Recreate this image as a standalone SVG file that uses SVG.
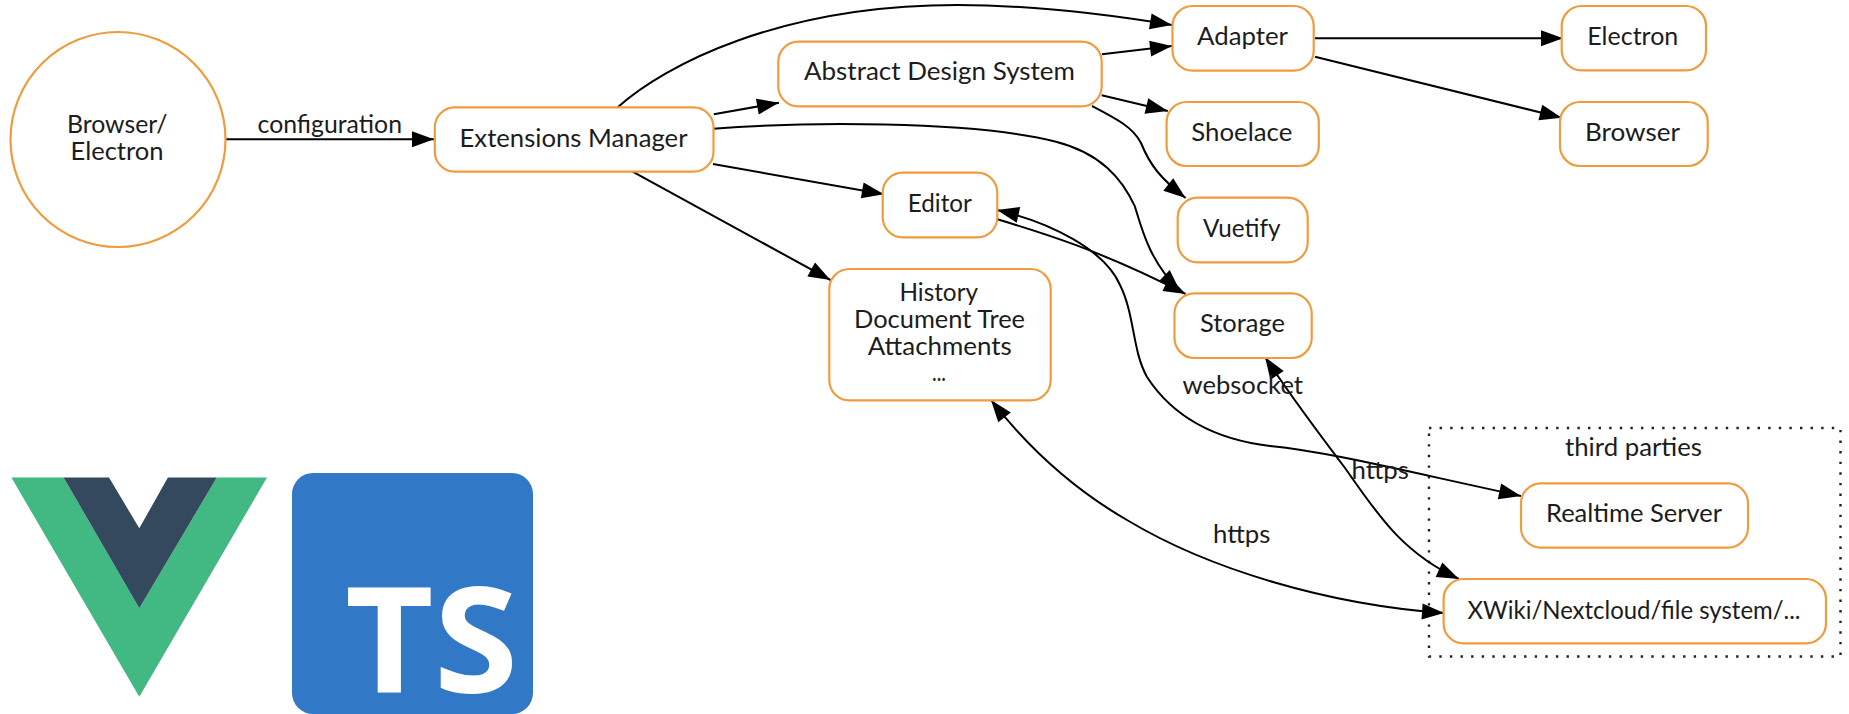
<svg xmlns="http://www.w3.org/2000/svg" width="1849" height="714" viewBox="0 0 1849 714">
<style>
.n{fill:#fff;stroke:#ef9c3f;stroke-width:2.2}
.t{font-family:"Lato","Noto Sans",sans-serif;font-size:25px;fill:#1c1c1c}
.c path{fill:none;stroke:#000;stroke-width:2}
.e{marker-end:url(#a)}
.b{marker-end:url(#a);marker-start:url(#a)}
</style>
<defs>
<marker id="a" markerUnits="userSpaceOnUse" markerWidth="24" markerHeight="18" viewBox="0 0 24 18" refX="23" refY="9" orient="auto-start-reverse"><path d="M1 1L23 9L1 17Z" fill="#000"/></marker>
</defs>
<rect width="1849" height="714" fill="#fff"/>
<g id="cluster-third-parties">
<rect x="1429" y="428" width="411.5" height="228.5" fill="none" stroke="#222" stroke-width="2.4" stroke-dasharray="2.4 8.2"/>
<text class="t" x="1565" y="455.5" textLength="137" lengthAdjust="spacingAndGlyphs">third parties</text>
</g>
<g id="connectors" class="c">
<path class="e" d="M225.5 139.3H434"/>
<path class="e" d="M618 107C665 65 780 5 957 5C1030 5 1100 13 1172 25"/>
<path class="e" d="M1102 54.3L1172 46"/>
<path class="e" d="M713.8 114.3L779 102.7"/>
<path class="e" d="M1101.7 95.3L1167.8 111"/>
<path class="e" d="M1092 106C1115 118 1133 127 1141 143C1150 165 1160 178 1185.6 198"/>
<path class="e" d="M713 128.7C800 122 970 120 1056 141.7C1100 153 1122 178 1135 206.7C1142 230 1150 262 1180 291"/>
<path class="e" d="M713 164L883.9 194.3"/>
<path class="e" d="M632.6 171.7L830.5 280"/>
<path class="e" d="M997.3 219.3C1040 232 1100 250 1185.6 294"/>
<path class="b" d="M997 210C1050 222 1105 250 1120 285C1135 315 1132 350 1147 377C1175 420 1220 440 1270 446C1330 452 1400 470 1521 496"/>
<path class="b" d="M1265 357C1290 395 1320 435 1345 468C1375 510 1400 552 1459 579"/>
<path class="b" d="M991 400C1030 450 1075 490 1127 520C1210 570 1330 605 1444 613"/>
<path class="e" d="M1315 38.3H1563"/>
<path class="e" d="M1315 56.7L1561.7 117.7"/>
</g>
<g id="label-configuration"><text class="t" x="257.5" y="133" textLength="144.5" lengthAdjust="spacingAndGlyphs">configuration</text></g>
<g id="label-websocket"><text class="t" x="1182.5" y="393.8" textLength="120.5" lengthAdjust="spacingAndGlyphs">websocket</text></g>
<g id="label-https-1"><text class="t" x="1351.5" y="478.8" textLength="57.5" lengthAdjust="spacingAndGlyphs">https</text></g>
<g id="label-https-2"><text class="t" x="1213" y="543" textLength="57.5" lengthAdjust="spacingAndGlyphs">https</text></g>
<g id="browser-electron"><circle class="n" cx="118" cy="139.5" r="107.5"/>
<text class="t" x="67" y="133" textLength="100.5" lengthAdjust="spacingAndGlyphs">Browser/</text>
<text class="t" x="70.5" y="159.8" textLength="93" lengthAdjust="spacingAndGlyphs">Electron</text></g>
<g id="extensions-manager"><rect class="n" x="434.8" y="107.3" width="278.7" height="64.4" rx="20"/>
<text class="t" x="459.5" y="146.5" textLength="228" lengthAdjust="spacingAndGlyphs">Extensions Manager</text></g>
<g id="abstract-design-system"><rect class="n" x="778.3" y="41.7" width="323.4" height="64.6" rx="20"/>
<text class="t" x="804" y="80" textLength="271" lengthAdjust="spacingAndGlyphs">Abstract Design System</text></g>
<g id="adapter"><rect class="n" x="1172.5" y="6" width="141.2" height="64.7" rx="20"/>
<text class="t" x="1197" y="45.3" textLength="91" lengthAdjust="spacingAndGlyphs">Adapter</text></g>
<g id="shoelace"><rect class="n" x="1166.6" y="102" width="152.2" height="64" rx="20"/>
<text class="t" x="1191.3" y="141" textLength="101" lengthAdjust="spacingAndGlyphs">Shoelace</text></g>
<g id="vuetify"><rect class="n" x="1177.7" y="197.7" width="130" height="64.6" rx="20"/>
<text class="t" x="1203" y="236.5" textLength="77.5" lengthAdjust="spacingAndGlyphs">Vuetify</text></g>
<g id="editor"><rect class="n" x="882.7" y="172.7" width="114.6" height="64.6" rx="20"/>
<text class="t" x="907.8" y="212" textLength="64" lengthAdjust="spacingAndGlyphs">Editor</text></g>
<g id="storage"><rect class="n" x="1174.5" y="293.3" width="137.2" height="64.7" rx="20"/>
<text class="t" x="1200" y="332.2" textLength="85" lengthAdjust="spacingAndGlyphs">Storage</text></g>
<g id="history"><rect class="n" x="829.3" y="269" width="221.4" height="131.3" rx="20"/>
<text class="t" x="899.5" y="301" textLength="78.5" lengthAdjust="spacingAndGlyphs">History</text>
<text class="t" x="854" y="327.7" textLength="171" lengthAdjust="spacingAndGlyphs">Document Tree</text>
<text class="t" x="867.8" y="354.5" textLength="144" lengthAdjust="spacingAndGlyphs">Attachments</text>
<text class="t" x="932" y="381" textLength="14" lengthAdjust="spacingAndGlyphs">...</text></g>
<g id="electron"><rect class="n" x="1561.7" y="6" width="144.3" height="64.3" rx="20"/>
<text class="t" x="1587.3" y="45" textLength="91" lengthAdjust="spacingAndGlyphs">Electron</text></g>
<g id="browser"><rect class="n" x="1560" y="102" width="147.7" height="64" rx="20"/>
<text class="t" x="1585" y="141" textLength="95" lengthAdjust="spacingAndGlyphs">Browser</text></g>
<g id="realtime-server"><rect class="n" x="1521" y="483.3" width="227" height="64.4" rx="20"/>
<text class="t" x="1546" y="522" textLength="176" lengthAdjust="spacingAndGlyphs">Realtime Server</text></g>
<g id="xwiki"><rect class="n" x="1443.6" y="579" width="382.4" height="64.4" rx="20"/>
<text class="t" x="1467.5" y="618.5" textLength="333" lengthAdjust="spacingAndGlyphs">XWiki/Nextcloud/file system/...</text></g>
<g id="vue-logo">
<path d="M11.4 477.5H63.6L139.3 608.3L216.8 477.5H267L139.3 696.7Z" fill="#42b883"/>
<path d="M63.6 477.5H109L139.3 528.3L167.9 477.5H216.8L139.3 608.3Z" fill="#35495e"/>
</g>
<g id="typescript-logo">
<rect x="292" y="473" width="241" height="241" rx="21" fill="#3178c6"/>
<text x="345" y="693.3" font-family="'Open Sans','Noto Sans',sans-serif" font-weight="700" font-size="148" fill="#fff" textLength="173" lengthAdjust="spacingAndGlyphs">TS</text>
</g>
</svg>
